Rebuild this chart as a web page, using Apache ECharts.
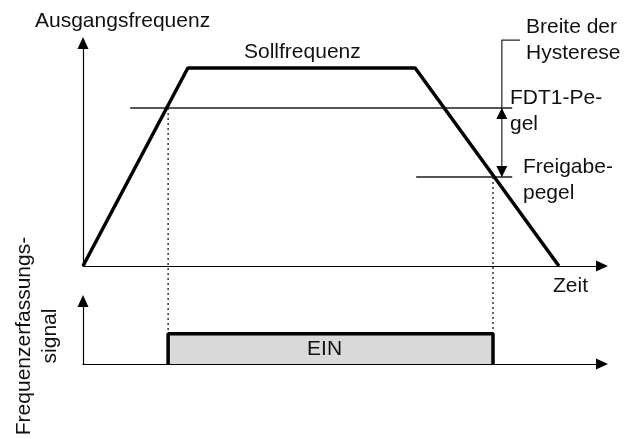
<!DOCTYPE html>
<html>
<head>
<meta charset="utf-8">
<script src="https://cdn.jsdelivr.net/npm/echarts@6/dist/echarts.min.js"></script>
<style>
html,body{margin:0;padding:0;background:#fff;}
#c{width:636px;height:439px;}
</style>
</head>
<body>
<div id="c"></div>
<script>
// ---- data (time 0..100, output frequency 0..100, signal 0..10) ----
const rampTime = [0, 20.2, 64.0, 91.7];
const rampFreq = [0, 88.8, 88.8, 0];
const fdtLevel = 70.9;
const fdtSpan = [9.1, 82.7];
const releaseLevel = 39.9;
const releaseSpan = [64.2, 82.7];
const hystTime = 80.7;
const bracketTop = 101.3;
const bracketEnd = 84.2;
const switchTimes = [16.4, 79.0];
const signalLevel = 4.8;
const texts = {
  yTop: 'Ausgangsfrequenz',
  target: 'Sollfrequenz',
  hyst: 'Breite der\nHysterese',
  fdt: 'FDT1-Pe-\ngel',
  release: 'Freigabe-\npegel',
  time: 'Zeit',
  on: 'EIN',
  yBottom: 'Frequenzerfassungs-\nsignal'
};

const FONT = '21px "Liberation Sans", Arial, sans-serif';
const chart = echarts.init(document.getElementById('c'), null, {renderer: 'canvas'});

function axisX(gi) {
  return {
    type: 'value', gridIndex: gi, min: 0, max: 100,
    axisLine: {show: true, onZero: false, symbol: ['none', 'triangle'], symbolSize: [11, 12],
      lineStyle: {color: '#000', width: 1.2}},
    axisTick: {show: false}, axisLabel: {show: false}, splitLine: {show: false}
  };
}
function axisY(gi, max) {
  return {
    type: 'value', gridIndex: gi, min: 0, max: max,
    axisLine: {show: true, onZero: false, symbol: ['none', 'triangle'], symbolSize: [11, 12],
      lineStyle: {color: '#000', width: 1.2}},
    axisTick: {show: false}, axisLabel: {show: false}, splitLine: {show: false}
  };
}

const option = {
  animation: false,
  backgroundColor: '#fff',
  grid: [
    {left: 83, right: 34, top: 43, bottom: 173},
    {left: 83, right: 34, top: 301, bottom: 75}
  ],
  xAxis: [axisX(0), axisX(1)],
  yAxis: [axisY(0, 100), axisY(1, 10)],
  series: [
    {
      type: 'line', xAxisIndex: 0, yAxisIndex: 0, symbol: 'none', silent: true,
      data: rampTime.map((t, i) => [t, rampFreq[i]]),
      lineStyle: {color: '#000', width: 3.5}, z: 5
    },
    {
      type: 'line', xAxisIndex: 0, yAxisIndex: 0, symbol: 'none', silent: true,
      data: fdtSpan.map(t => [t, fdtLevel]),
      lineStyle: {color: '#555', width: 2}, z: 3
    },
    {
      type: 'line', xAxisIndex: 0, yAxisIndex: 0, symbol: 'none', silent: true,
      data: releaseSpan.map(t => [t, releaseLevel]),
      lineStyle: {color: '#555', width: 2}, z: 3
    },
    {
      type: 'line', xAxisIndex: 0, yAxisIndex: 0, symbol: 'none', silent: true, clip: false,
      data: [[bracketEnd, bracketTop], [hystTime, bracketTop], [hystTime, releaseLevel]],
      lineStyle: {color: '#222', width: 1.2}, z: 4
    },
    {
      type: 'line', xAxisIndex: 1, yAxisIndex: 1, symbol: 'none', silent: true,
      data: [[switchTimes[0], 0], [switchTimes[0], signalLevel], [switchTimes[1], signalLevel], [switchTimes[1], 0]],
      lineStyle: {color: '#000', width: 3.5},
      areaStyle: {color: '#d9d9d9', opacity: 1}, z: 2
    }
  ]
};
chart.setOption(option);

// derived positions through the library's scales
const onTop = chart.convertToPixel({gridIndex: 0}, [switchTimes[0], fdtLevel]);
const offTop = chart.convertToPixel({gridIndex: 0}, [switchTimes[1], releaseLevel]);
const onBot = chart.convertToPixel({gridIndex: 1}, [switchTimes[0], signalLevel]);
const offBot = chart.convertToPixel({gridIndex: 1}, [switchTimes[1], signalLevel]);
const einPos = chart.convertToPixel({gridIndex: 1}, [(switchTimes[0] + switchTimes[1]) / 2, signalLevel / 2]);
const hUp = chart.convertToPixel({gridIndex: 0}, [hystTime, fdtLevel]);
const hDn = chart.convertToPixel({gridIndex: 0}, [hystTime, releaseLevel]);

function txt(x, y, text, align, extra) {
  return Object.assign({
    type: 'text', x: x, y: y, silent: true, z: 20,
    style: {text: text, font: FONT, fill: '#111', align: align || 'left', textAlign: align || 'left',
      verticalAlign: 'middle', textVerticalAlign: 'middle', lineHeight: 26}
  }, extra || {});
}
const dot = {stroke: '#000', lineWidth: 1.2, lineDash: [2, 3]};
const AW = 5.5, AL = 11;

chart.setOption({
  graphic: [
    {type: 'line', silent: true, z: 1, shape: {x1: onTop[0], y1: onTop[1], x2: onBot[0], y2: onBot[1]}, style: dot},
    {type: 'line', silent: true, z: 1, shape: {x1: offTop[0], y1: offTop[1], x2: offBot[0], y2: offBot[1]}, style: dot},
    {type: 'polygon', silent: true, z: 10,
      shape: {points: [[hUp[0], hUp[1]], [hUp[0] - AW, hUp[1] + AL], [hUp[0] + AW, hUp[1] + AL]]},
      style: {fill: '#000'}},
    {type: 'polygon', silent: true, z: 10,
      shape: {points: [[hDn[0], hDn[1]], [hDn[0] - AW, hDn[1] - AL], [hDn[0] + AW, hDn[1] - AL]]},
      style: {fill: '#000'}},
    txt(35, 21, texts.yTop),
    txt(244, 52, texts.target),
    txt(526, 40, texts.hyst),
    txt(510, 111, texts.fdt),
    txt(523, 180, texts.release),
    txt(553, 286, texts.time),
    txt(einPos[0] - 6, einPos[1], texts.on, 'center'),
    txt(37, 336, texts.yBottom, 'center', {rotation: Math.PI / 2})
  ]
});
</script>
</body>
</html>
